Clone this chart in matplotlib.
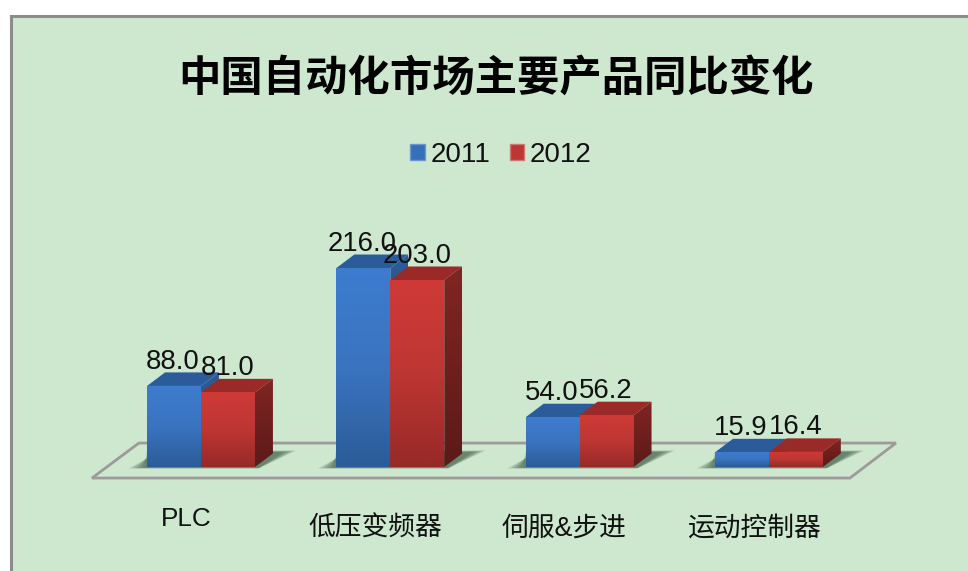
import numpy as np
import matplotlib
matplotlib.use('Agg')
import matplotlib.pyplot as plt
from matplotlib.colors import LinearSegmentedColormap
from matplotlib.patches import Patch, Polygon, Rectangle

plt.rcParams['font.family'] = ['Liberation Sans', 'Noto Sans CJK SC']

title = '中国自动化市场主要产品同比变化'
categories = ['PLC', '低压变频器', '伺服&步进', '运动控制器']
years = ['2011', '2012']
values_2011 = [88.0, 216.0, 54.0, 15.9]
values_2012 = [81.0, 203.0, 56.2, 16.4]

bg = '#CDE8CF'
bar_w = 0.285
depth_x = 0.095
depth_y = 14.7

fig = plt.figure(figsize=(9.68, 5.71), dpi=100, facecolor='white')
ax = fig.add_axes([0, 0, 1, 1])
ax.axis('off')
ax.add_patch(Rectangle((11 / 968, -0.1), 1.1, 1.1 - 16 / 571, transform=ax.transAxes,
                       facecolor=bg, edgecolor='#8C8C8C', lw=2.2, zorder=0))


def gradient(x0, x1, y0, y1, clip, colors, zorder):
    cmap = LinearSegmentedColormap.from_list('g', colors)
    im = ax.imshow(np.linspace(0, 1, 128).reshape(-1, 1), cmap=cmap, aspect='auto',
                   extent=(x0, x1, y0, y1), origin='upper', zorder=zorder,
                   interpolation='bilinear')
    poly = Polygon(clip, closed=True, transform=ax.transData, facecolor='none', edgecolor='none')
    ax.add_patch(poly)
    im.set_clip_path(poly)


def shadow(x, zorder=2):
    # soft shadow on the floor, built from stacked faint shapes
    for grow in np.linspace(1, 0, 12):
        g = grow * 0.085
        pts = [(x - 0.015 - g, -1 - grow * 0.5), (x + 2 * bar_w + 0.02, -1 - grow * 0.5),
               (x + 2 * bar_w + depth_x + 0.05 + g * 0.9, 16 + grow * 2),
               (x + depth_x + g - 0.1, 16 + grow * 2)]
        ax.add_patch(Polygon(pts, closed=True, facecolor='#3F5A46', edgecolor='none',
                             alpha=0.09, zorder=zorder))


def bar3d(x, v, front, side, top, zorder):
    # x is the left edge of the front face
    r = x + bar_w
    top_pts = [(x, v), (r, v), (r + depth_x, v + depth_y), (x + depth_x, v + depth_y)]
    ax.add_patch(Polygon(top_pts, closed=True, facecolor=top, edgecolor='none', zorder=zorder))
    side_pts = [(r, 0), (r + depth_x, depth_y), (r + depth_x, v + depth_y), (r, v)]
    gradient(r, r + depth_x, 0, v + depth_y, side_pts, side, zorder)
    gradient(x, r, 0, v, [(x, 0), (r, 0), (r, v), (x, v)], front, zorder + 0.1)


# floor
floor = [(-0.576, -12), (3.428, -12), (3.671, 26), (-0.328, 26)]
ax.add_patch(Polygon(floor, closed=True, facecolor='none', edgecolor='#9E9A9A', lw=2, zorder=1))

blue_front = ['#3D7CCE', '#3A74C0', '#2B5C98']
red_front = ['#CF3A37', '#BE3633', '#962A28']
blue_side = ['#2B5C98', '#234E85']
red_side = ['#812523', '#5C1A18']

for i in range(len(categories)):
    left = i - bar_w
    shadow(left)
    bar3d(left, values_2011[i], blue_front, blue_side, '#2B5C99', 3)
    bar3d(i, values_2012[i], red_front, red_side, '#9A2A28', 4)
    ax.annotate(f'{values_2011[i]:.1f}', (left + bar_w / 2, values_2011[i]), xytext=(-0.7, 17.6),
                textcoords='offset points', ha='center', va='center', fontsize=19.8,
                color='#111111', zorder=6)
    ax.annotate(f'{values_2012[i]:.1f}', (i + bar_w / 2, values_2012[i]), xytext=(-0.4, 17.6),
                textcoords='offset points', ha='center', va='center', fontsize=19.8,
                color='#111111', zorder=6)

# PLC sits a little higher than the other labels
label_y = [-57, -67, -67, -67]
for i, name in enumerate(categories):
    ax.text(i - 0.08, label_y[i], name, ha='center', va='center', fontsize=19.3 if i else 18.8,
            color='#111111', zorder=6)

# px = 201 + 189.3 * x, py = 467 - 0.921 * v
ax.set_xlim(-201 / 189.3, (968 - 201) / 189.3)
ax.set_ylim((467 - 571) / 0.921, 467 / 0.921)

fig.text(496 / 968, 1 - 79 / 571, title, ha='center', va='center', fontsize=30.5,
         fontweight='bold', color='black')

handles = [Patch(facecolor='#3570BA', edgecolor='#6F98C8', label=years[0]),
           Patch(facecolor='#BE3532', edgecolor='#C87A78', label=years[1])]
fig.legend(handles=handles, ncol=2, loc='center', bbox_to_anchor=(501 / 968, 1 - 155 / 571),
           frameon=False, fontsize=20, handlelength=0.52, handleheight=0.52,
           handletextpad=0.2, columnspacing=0.7, labelcolor='#111111')

fig.savefig('out.png', dpi=100, facecolor='white')
